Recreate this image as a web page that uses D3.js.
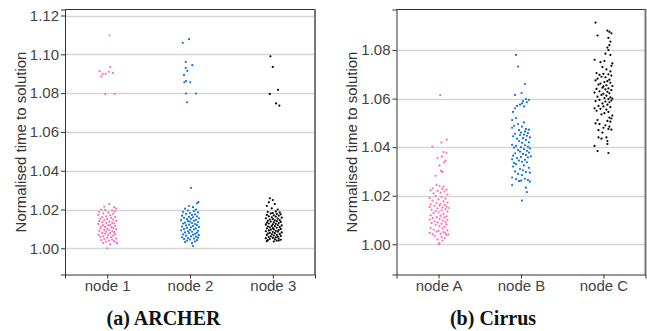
<!DOCTYPE html>
<html><head><meta charset="utf-8">
<script src="https://cdn.jsdelivr.net/npm/d3@7"></script>
<style>body{margin:0;background:#fff}svg{display:block}</style>
</head><body>
<script>
// ---------- DATA ----------
const archerCategories = ["node 1", "node 2", "node 3"];
const cirrusCategories = ["node A", "node B", "node C"];
const archerTicks = [1.00, 1.02, 1.04, 1.06, 1.08, 1.10, 1.12];
const cirrusTicks = [1.00, 1.02, 1.04, 1.06, 1.08];
const yLabel = "Normalised time to solution";
const captions = ["(a) ARCHER", "(b) Cirrus"];
// each point: [jitter (-1..1), normalised time]
const archerNode1 = [
[0.24,1.1097],[-0.76,1.0913],[-0.6,1.0886],[-0.45,1.0899],[-0.16,1.0899],[0.17,1.0910],[0.3,1.0934],[0.57,1.0904],[-0.2,1.0795],[0.74,1.0795],
[0.2,1.0228],[-0.3,1.0215],[0.7,1.0212],[0.9,1.0205],[-0.6,1.0200],[-0.2,1.0198],[0.5,1.0195],[0.8,1.0190],[-0.8,1.0188],[0.1,1.0185],[-0.4,1.0180],[0.6,1.0178],[-0.9,1.0172],[0.3,1.0170],[-0.1,1.0165],[0.8,1.0162],[-0.5,1.0160],[0.4,1.0157],[-0.7,1.0152],[0.0,1.0150],[0.6,1.0148],[-0.3,1.0145],[0.9,1.0142],[-0.8,1.0140],[0.2,1.0138],[-0.5,1.0135],[0.5,1.0132],[-0.1,1.0130],[0.7,1.0128],[-0.9,1.0125],[0.3,1.0122],[-0.4,1.0120],[0.1,1.0118],[0.8,1.0115],[-0.6,1.0112],[-0.2,1.0110],[0.4,1.0108],[0.6,1.0105],[-0.7,1.0102],[0.0,1.0100],[0.9,1.0098],[-0.3,1.0095],[0.2,1.0093],[-0.8,1.0090],[0.5,1.0088],[-0.1,1.0085],[0.7,1.0083],[-0.5,1.0080],[0.3,1.0078],[-0.2,1.0075],[0.8,1.0073],[-0.9,1.0070],[0.1,1.0068],[0.6,1.0065],[-0.4,1.0062],[-0.7,1.0060],[0.4,1.0057],[0.0,1.0055],[0.9,1.0050],[-0.3,1.0048],[0.5,1.0045],[-0.6,1.0042],[0.2,1.0040],[0.7,1.0037],[-0.1,1.0035],[0.9,1.0030],[-0.4,1.0028],[1.0,1.0025],[0.3,1.0020],[0.0,1.0000]
];
const archerNode2 = [
[-0.73,1.1059],[-0.1,1.1078],[-0.43,1.0961],[0.23,1.0944],[-0.43,1.0929],[-0.27,1.0915],[-0.6,1.0894],[-0.57,1.0856],[-0.4,1.0862],[0.03,1.0856],[-0.4,1.0798],[0.6,1.0798],[-0.3,1.0753],
[0.1,1.0312],[0.85,1.0238],[0.7,1.0232],[-0.1,1.0218],[0.3,1.0212],[-0.5,1.0205],[0.6,1.0200],[-0.2,1.0195],[0.4,1.0192],[-0.7,1.0188],[0.8,1.0185],[0.0,1.0182],[-0.4,1.0178],[0.5,1.0175],[0.2,1.0172],[-0.8,1.0168],[0.7,1.0165],[-0.1,1.0162],[0.3,1.0160],[-0.6,1.0157],[0.9,1.0155],[0.1,1.0152],[-0.3,1.0150],[0.6,1.0147],[-0.9,1.0145],[0.4,1.0142],[-0.2,1.0140],[0.0,1.0138],[0.8,1.0135],[-0.5,1.0132],[0.2,1.0130],[-0.7,1.0128],[0.5,1.0125],[-0.1,1.0122],[0.7,1.0120],[-0.4,1.0118],[0.3,1.0115],[-0.8,1.0112],[0.9,1.0110],[0.1,1.0108],[-0.3,1.0105],[0.6,1.0103],[-0.6,1.0100],[0.4,1.0098],[0.0,1.0095],[-0.9,1.0093],[0.8,1.0090],[-0.2,1.0088],[0.2,1.0085],[-0.5,1.0082],[0.7,1.0080],[-0.1,1.0078],[0.5,1.0075],[-0.7,1.0072],[0.3,1.0070],[0.9,1.0068],[-0.4,1.0065],[0.1,1.0062],[0.6,1.0060],[-0.8,1.0057],[0.8,1.0055],[-0.2,1.0052],[0.4,1.0050],[-0.6,1.0047],[0.0,1.0045],[0.7,1.0042],[-0.3,1.0040],[0.5,1.0035],[-0.5,1.0032],[0.2,1.0028],[0.3,1.0012]
];
const archerNode3 = [
[-0.24,1.0990],[0.0,1.0935],[0.53,1.0817],[-0.3,1.0796],[0.33,1.0747],[0.66,1.0736],
[-0.3,1.0258],[0.0,1.0249],[-0.4,1.0237],[0.2,1.0228],[-0.6,1.0218],[-0.1,1.0206],[0.5,1.0200],[0.3,1.0190],[-0.5,1.0188],[0.7,1.0185],[0.0,1.0182],[-0.2,1.0180],[0.4,1.0177],[0.8,1.0175],[-0.6,1.0172],[0.1,1.0170],[0.6,1.0168],[-0.4,1.0165],[0.3,1.0163],[-0.1,1.0160],[0.9,1.0158],[-0.7,1.0155],[0.5,1.0153],[0.0,1.0150],[-0.3,1.0148],[0.7,1.0146],[0.2,1.0144],[-0.5,1.0142],[0.4,1.0140],[-0.2,1.0138],[0.8,1.0136],[0.1,1.0134],[-0.6,1.0132],[0.6,1.0130],[-0.4,1.0128],[0.3,1.0126],[0.0,1.0124],[-0.7,1.0122],[0.5,1.0120],[0.9,1.0118],[-0.1,1.0116],[0.2,1.0114],[-0.5,1.0112],[0.7,1.0110],[-0.3,1.0108],[0.4,1.0106],[0.0,1.0104],[-0.6,1.0102],[0.8,1.0100],[0.1,1.0098],[-0.2,1.0096],[0.6,1.0094],[-0.4,1.0092],[0.3,1.0090],[-0.7,1.0088],[0.5,1.0086],[0.0,1.0084],[0.9,1.0082],[-0.3,1.0080],[0.2,1.0078],[-0.5,1.0076],[0.7,1.0074],[-0.1,1.0072],[0.4,1.0070],[-0.6,1.0068],[0.1,1.0066],[0.8,1.0064],[-0.2,1.0062],[0.5,1.0060],[-0.4,1.0058],[0.3,1.0056],[0.0,1.0054],[-0.7,1.0052],[0.6,1.0050],[-0.3,1.0048],[0.2,1.0046],[0.8,1.0044],[-0.5,1.0042],[0.4,1.0040],[-0.6,1.0037],[0.1,1.0035],[0.6,1.0040]
];
const cirrusNodeA = [
[0.17,1.0614],[-0.63,1.0402],[0.3,1.0419],[0.84,1.0431],[0.5,1.0380],[0.8,1.0376],[0.35,1.0362],[-0.1,1.0355],[0.7,1.0345],[0.55,1.0338],[0.1,1.0325],[0.25,1.0302],[0.4,1.0298],[-0.3,1.0282],
[-0.2,1.0245],[0.1,1.0240],[0.5,1.0238],[-0.6,1.0230],[0.4,1.0228],[0.8,1.0225],[-0.8,1.0222],[-0.1,1.0220],[0.6,1.0217],[0.2,1.0212],[-0.5,1.0210],[0.9,1.0205],[-0.3,1.0198],[0.3,1.0195],[-0.9,1.0190],[0.7,1.0188],[0.0,1.0185],[-0.6,1.0180],[0.5,1.0177],[0.9,1.0172],[-0.2,1.0170],[0.2,1.0167],[-0.8,1.0165],[0.6,1.0162],[0.1,1.0160],[-0.4,1.0158],[0.8,1.0156],[-0.9,1.0154],[0.4,1.0152],[1.0,1.0150],[-0.1,1.0148],[0.7,1.0145],[-0.7,1.0142],[0.3,1.0140],[-0.3,1.0138],[0.9,1.0135],[0.0,1.0132],[-0.5,1.0128],[0.5,1.0125],[-0.8,1.0120],[0.2,1.0118],[0.8,1.0115],[-0.2,1.0112],[0.6,1.0110],[-0.6,1.0108],[0.1,1.0105],[-0.9,1.0102],[0.9,1.0100],[0.4,1.0098],[-0.4,1.0095],[0.7,1.0092],[-0.1,1.0090],[-0.7,1.0088],[0.3,1.0085],[0.8,1.0082],[-0.3,1.0080],[0.1,1.0075],[0.6,1.0072],[-0.8,1.0068],[0.4,1.0065],[-0.5,1.0060],[0.9,1.0057],[0.0,1.0055],[-0.2,1.0052],[0.5,1.0050],[-0.9,1.0047],[0.7,1.0045],[0.2,1.0043],[-0.6,1.0042],[1.0,1.0040],[0.8,1.0038],[-0.4,1.0035],[0.3,1.0030],[0.6,1.0025],[-0.1,1.0020],[0.4,1.0015],[0.1,1.0005],[0.0,1.0000]
];
const cirrusNodeB = [
[-0.5,1.0780],[-0.3,1.0732],[0.4,1.0660],[0.06,1.0623],[-0.6,1.0615],[0.5,1.0598],[0.8,1.0595],[0.2,1.0590],[0.6,1.0585],[0.1,1.0580],[-0.1,1.0575],[-0.4,1.0570],[0.3,1.0568],[-0.6,1.0560],[-0.8,1.0545],[-0.5,1.0520],[-0.9,1.0512],[0.3,1.0502],[-0.3,1.0495],[-0.7,1.0488],[0.1,1.0485],[-0.9,1.0480],[0.5,1.0475],[0.8,1.0472],[-0.2,1.0470],[0.4,1.0465],[0.0,1.0460],[0.7,1.0458],[-0.6,1.0455],[0.3,1.0452],[-0.1,1.0450],[0.6,1.0447],[-0.8,1.0445],[0.9,1.0440],[0.2,1.0437],[-0.4,1.0435],[0.5,1.0430],[-0.2,1.0425],[0.8,1.0420],[0.1,1.0418],[-0.9,1.0410],[0.4,1.0408],[-0.5,1.0405],[0.7,1.0402],[0.0,1.0400],[-0.7,1.0398],[0.9,1.0395],[0.3,1.0392],[-0.3,1.0388],[0.6,1.0385],[-0.1,1.0382],[0.8,1.0378],[-0.6,1.0375],[0.2,1.0372],[0.5,1.0368],[-0.8,1.0365],[1.0,1.0362],[0.0,1.0360],[0.7,1.0358],[-0.4,1.0355],[-0.9,1.0350],[0.4,1.0348],[-0.2,1.0345],[0.1,1.0340],[0.6,1.0338],[-0.7,1.0335],[-0.5,1.0330],[0.3,1.0325],[-0.8,1.0320],[0.8,1.0315],[-0.1,1.0310],[0.2,1.0305],[-0.6,1.0300],[0.5,1.0298],[0.9,1.0295],[-0.3,1.0290],[0.1,1.0285],[-0.9,1.0275],[0.4,1.0270],[-0.5,1.0268],[0.7,1.0265],[-0.2,1.0260],[0.0,1.0262],[0.9,1.0258],[-0.9,1.0244],[0.5,1.0233],[0.6,1.0215],[0.1,1.0180]
];
const cirrusNodeC = [
[-0.8,1.0913],[-0.6,1.0860],[0.4,1.0880],[0.6,1.0875],[0.8,1.0869],[0.5,1.0850],[0.7,1.0835],[0.6,1.0820],[0.4,1.0810],[0.5,1.0800],[0.2,1.0785],[0.7,1.0780],[-0.9,1.0760],[0.1,1.0755],[-0.3,1.0750],[0.9,1.0745],[0.8,1.0735],[-0.1,1.0730],[0.3,1.0720],[0.7,1.0712],[-0.7,1.0705],[0.0,1.0702],[0.5,1.0700],[-0.4,1.0698],[0.8,1.0695],[-0.2,1.0690],[0.2,1.0688],[-0.6,1.0682],[0.6,1.0678],[-0.8,1.0675],[0.4,1.0672],[0.1,1.0668],[0.7,1.0665],[-0.3,1.0662],[-0.5,1.0658],[0.3,1.0655],[0.9,1.0652],[0.0,1.0650],[-0.1,1.0645],[0.5,1.0642],[-0.7,1.0640],[0.2,1.0638],[0.8,1.0635],[-0.4,1.0630],[0.4,1.0628],[-0.9,1.0625],[0.6,1.0622],[0.0,1.0620],[-0.2,1.0615],[0.3,1.0612],[-0.6,1.0608],[0.7,1.0605],[0.1,1.0602],[0.9,1.0600],[0.5,1.0598],[-0.4,1.0595],[0.8,1.0592],[-0.8,1.0590],[0.2,1.0588],[0.6,1.0585],[-0.1,1.0580],[0.4,1.0575],[-0.5,1.0570],[0.0,1.0568],[0.7,1.0565],[-0.9,1.0560],[-0.3,1.0558],[0.3,1.0555],[-0.7,1.0550],[0.5,1.0545],[0.1,1.0540],[-0.2,1.0535],[0.9,1.0530],[0.6,1.0522],[0.8,1.0518],[-0.6,1.0512],[0.4,1.0508],[0.7,1.0505],[-0.8,1.0498],[-0.4,1.0495],[0.2,1.0490],[0.6,1.0485],[0.0,1.0480],[0.5,1.0475],[0.8,1.0472],[-0.5,1.0470],[-0.1,1.0460],[0.3,1.0440],[-0.5,1.0440],[-0.2,1.0435],[0.4,1.0425],[-0.9,1.0405],[0.4,1.0413],[-0.6,1.0384],[0.5,1.0376]
];
const seriesColors = ["#ff6eb4", "#0a72e6", "#000000"];

// ---------- LAYOUT ----------
const W = 647, H = 331;
const svg = d3.select("body").append("svg").attr("width", W).attr("height", H);

const panels = [
  {cats: archerCategories, series: [archerNode1, archerNode2, archerNode3], ticks: archerTicks,
   x0: 65, x1: 315, y0: 9.5, y1: 274.5, domain: [0.9865, 1.1231], labelX: 20.5, capX: 163.5},
  {cats: cirrusCategories, series: [cirrusNodeA, cirrusNodeB, cirrusNodeC], ticks: cirrusTicks,
   x0: 396.5, x1: 645.5, y0: 9.5, y1: 274.5, domain: [0.98756, 1.0967], labelX: 351.5, capX: 493}
];
const jitterFrac = 0.12;

panels.forEach((p, pi) => {
  const g = svg.append("g");
  const x = d3.scalePoint().domain(p.cats).range([p.x0, p.x1]).padding(0.51);
  const y = d3.scaleLinear().domain(p.domain).range([p.y1, p.y0]);
  const step = x.step();

  // grid
  g.append("g").selectAll("line").data(p.ticks).join("line")
    .attr("x1", p.x0).attr("x2", p.x1)
    .attr("y1", d => Math.round(y(d)) + 0.5).attr("y2", d => Math.round(y(d)) + 0.5)
    .attr("stroke", "#d6d6d6").attr("stroke-width", 1.3);

  // points
  p.series.forEach((s, si) => {
    g.append("g").selectAll("circle").data(s).join("circle")
      .attr("cx", d => x(p.cats[si]) + d[0] * jitterFrac * step)
      .attr("cy", d => y(d[1]))
      .attr("r", 1.1)
      .attr("fill", seriesColors[si]);
  });

  // frame
  g.append("line").attr("x1", p.x0).attr("x2", p.x1).attr("y1", p.y0).attr("y2", p.y0)
    .attr("stroke", "#333").attr("stroke-width", 1);
  g.append("line").attr("x1", p.x1).attr("x2", p.x1).attr("y1", p.y0 - 0.5).attr("y2", p.y1 + 0.5)
    .attr("stroke", "#777").attr("stroke-width", 2);

  // axes
  const ya = g.append("g").attr("transform", `translate(${p.x0},0)`)
    .call(d3.axisLeft(y).tickValues(p.ticks).tickFormat(d3.format(".2f")).tickSize(4).tickPadding(2));
  const xa = g.append("g").attr("transform", `translate(0,${p.y1})`)
    .call(d3.axisBottom(x).tickSize(4).tickPadding(2));
  [ya, xa].forEach(a => {
    a.select(".domain").attr("stroke", "#333");
    a.selectAll(".tick line").attr("stroke", "#333");
    a.selectAll(".tick text").attr("fill", "#444")
      .style("font-family", "'Liberation Sans', Arial, sans-serif").style("font-size", "15px");
  });

  // y label
  g.append("text")
    .attr("transform", `translate(${p.labelX},${(p.y0 + p.y1) / 2}) rotate(-90)`)
    .attr("text-anchor", "middle").attr("dominant-baseline", "central")
    .attr("fill", "#333")
    .style("font-family", "'Liberation Sans', Arial, sans-serif").style("font-size", "15px")
    .text(yLabel);

  // caption
  svg.append("text").attr("x", p.capX).attr("y", 325)
    .attr("text-anchor", "middle").attr("fill", "#111")
    .style("font-family", "'Liberation Serif', 'Times New Roman', serif")
    .style("font-weight", "bold").style("font-size", "20px")
    .text(captions[pi]);
});
</script>
</body></html>
